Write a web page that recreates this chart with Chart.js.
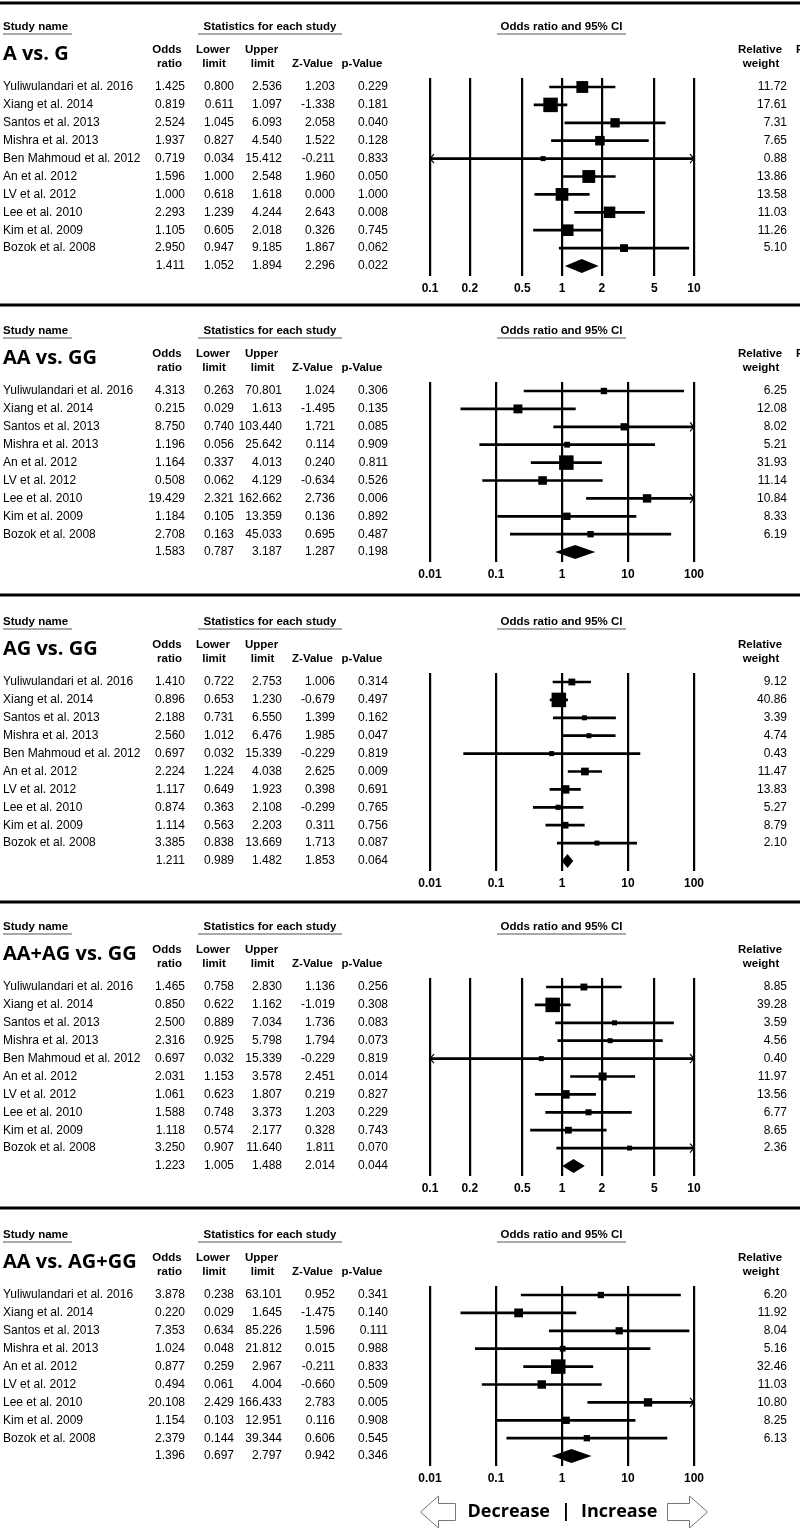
<!DOCTYPE html>
<html lang="en">
<head>
<meta charset="UTF-8">
<title>Forest plots</title>
<script src="https://cdn.jsdelivr.net/npm/chart.js@4.4.0/dist/chart.umd.min.js"></script>
<style>
  body { margin: 0; background: #fff; }
  #wrap { position: relative; width: 800px; height: 1528px; overflow: hidden; background: #fff; }
  canvas { position: absolute; left: 0; }
</style>
</head>
<body>
<div id="wrap"></div>
<script>
// ---- data ----
const studiesAll = ['Yuliwulandari et al. 2016', 'Xiang et al. 2014', 'Santos et al. 2013', 'Mishra et al. 2013',
  'Ben Mahmoud et al. 2012', 'An et al. 2012', 'LV et al. 2012', 'Lee et al. 2010', 'Kim et al. 2009', 'Bozok et al. 2008'];
const studiesNoBM = ['Yuliwulandari et al. 2016', 'Xiang et al. 2014', 'Santos et al. 2013', 'Mishra et al. 2013',
  'An et al. 2012', 'LV et al. 2012', 'Lee et al. 2010', 'Kim et al. 2009', 'Bozok et al. 2008'];

const ticksNarrow = [0.1, 0.2, 0.5, 1, 2, 5, 10];
const ticksWide = [0.01, 0.1, 1, 10, 100];

// A vs. G
const ag_or = [1.425, 0.819, 2.524, 1.937, 0.719, 1.596, 1.000, 2.293, 1.105, 2.950];
const ag_lo = [0.800, 0.611, 1.045, 0.827, 0.034, 1.000, 0.618, 1.239, 0.605, 0.947];
const ag_hi = [2.536, 1.097, 6.093, 4.540, 15.412, 2.548, 1.618, 4.244, 2.018, 9.185];
const ag_z = [1.203, -1.338, 2.058, 1.522, -0.211, 1.960, 0.000, 2.643, 0.326, 1.867];
const ag_p = [0.229, 0.181, 0.040, 0.128, 0.833, 0.050, 1.000, 0.008, 0.745, 0.062];
const ag_w = [11.72, 17.61, 7.31, 7.65, 0.88, 13.86, 13.58, 11.03, 11.26, 5.10];
const ag_sum = [1.411, 1.052, 1.894, 2.296, 0.022];

// AA vs. GG
const aagg_or = [4.313, 0.215, 8.750, 1.196, 1.164, 0.508, 19.429, 1.184, 2.708];
const aagg_lo = [0.263, 0.029, 0.740, 0.056, 0.337, 0.062, 2.321, 0.105, 0.163];
const aagg_hi = [70.801, 1.613, 103.440, 25.642, 4.013, 4.129, 162.662, 13.359, 45.033];
const aagg_z = [1.024, -1.495, 1.721, 0.114, 0.240, -0.634, 2.736, 0.136, 0.695];
const aagg_p = [0.306, 0.135, 0.085, 0.909, 0.811, 0.526, 0.006, 0.892, 0.487];
const aagg_w = [6.25, 12.08, 8.02, 5.21, 31.93, 11.14, 10.84, 8.33, 6.19];
const aagg_sum = [1.583, 0.787, 3.187, 1.287, 0.198];

// AG vs. GG
const aggg_or = [1.410, 0.896, 2.188, 2.560, 0.697, 2.224, 1.117, 0.874, 1.114, 3.385];
const aggg_lo = [0.722, 0.653, 0.731, 1.012, 0.032, 1.224, 0.649, 0.363, 0.563, 0.838];
const aggg_hi = [2.753, 1.230, 6.550, 6.476, 15.339, 4.038, 1.923, 2.108, 2.203, 13.669];
const aggg_z = [1.006, -0.679, 1.399, 1.985, -0.229, 2.625, 0.398, -0.299, 0.311, 1.713];
const aggg_p = [0.314, 0.497, 0.162, 0.047, 0.819, 0.009, 0.691, 0.765, 0.756, 0.087];
const aggg_w = [9.12, 40.86, 3.39, 4.74, 0.43, 11.47, 13.83, 5.27, 8.79, 2.10];
const aggg_sum = [1.211, 0.989, 1.482, 1.853, 0.064];

// AA+AG vs. GG
const dom_or = [1.465, 0.850, 2.500, 2.316, 0.697, 2.031, 1.061, 1.588, 1.118, 3.250];
const dom_lo = [0.758, 0.622, 0.889, 0.925, 0.032, 1.153, 0.623, 0.748, 0.574, 0.907];
const dom_hi = [2.830, 1.162, 7.034, 5.798, 15.339, 3.578, 1.807, 3.373, 2.177, 11.640];
const dom_z = [1.136, -1.019, 1.736, 1.794, -0.229, 2.451, 0.219, 1.203, 0.328, 1.811];
const dom_p = [0.256, 0.308, 0.083, 0.073, 0.819, 0.014, 0.827, 0.229, 0.743, 0.070];
const dom_w = [8.85, 39.28, 3.59, 4.56, 0.40, 11.97, 13.56, 6.77, 8.65, 2.36];
const dom_sum = [1.223, 1.005, 1.488, 2.014, 0.044];

// AA vs. AG+GG
const rec_or = [3.878, 0.220, 7.353, 1.024, 0.877, 0.494, 20.108, 1.154, 2.379];
const rec_lo = [0.238, 0.029, 0.634, 0.048, 0.259, 0.061, 2.429, 0.103, 0.144];
const rec_hi = [63.101, 1.645, 85.226, 21.812, 2.967, 4.004, 166.433, 12.951, 39.344];
const rec_z = [0.952, -1.475, 1.596, 0.015, -0.211, -0.660, 2.783, 0.116, 0.606];
const rec_p = [0.341, 0.140, 0.111, 0.988, 0.833, 0.509, 0.005, 0.908, 0.545];
const rec_w = [6.20, 11.92, 8.04, 5.16, 32.46, 11.03, 10.80, 8.25, 6.13];
const rec_sum = [1.396, 0.697, 2.797, 0.942, 0.346];

const panels = [
  { title: 'A vs. G', names: studiesAll, or: ag_or, lo: ag_lo, hi: ag_hi, z: ag_z, p: ag_p, w: ag_w, sum: ag_sum, ticks: ticksNarrow },
  { title: 'AA vs. GG', names: studiesNoBM, or: aagg_or, lo: aagg_lo, hi: aagg_hi, z: aagg_z, p: aagg_p, w: aagg_w, sum: aagg_sum, ticks: ticksWide },
  { title: 'AG vs. GG', names: studiesAll, or: aggg_or, lo: aggg_lo, hi: aggg_hi, z: aggg_z, p: aggg_p, w: aggg_w, sum: aggg_sum, ticks: ticksWide },
  { title: 'AA+AG vs. GG', names: studiesAll, or: dom_or, lo: dom_lo, hi: dom_hi, z: dom_z, p: dom_p, w: dom_w, sum: dom_sum, ticks: ticksNarrow },
  { title: 'AA vs. AG+GG', names: studiesNoBM, or: rec_or, lo: rec_lo, hi: rec_hi, z: rec_z, p: rec_p, w: rec_w, sum: rec_sum, ticks: ticksWide }
];

// ---- layout (page pixels) ----
const sepY = [3, 305, 595, 902, 1208];
const firstRowY = [87, 391, 682, 987, 1295];
const ROW = 17.9;
const PAGE_H = 1528;
const AXIS_H = 30;

const BODY = '12px "Liberation Sans", Arial, sans-serif';
const HEAD = 'bold 11.5px "Liberation Sans", Arial, sans-serif';
const TITLE = 'bold 20px "Open Sans", "Liberation Sans", sans-serif';

const wrap = document.getElementById('wrap');

panels.forEach((pn, k) => {
  const n = pn.names.length;
  const T = sepY[k] - 2;
  const H = (k < panels.length - 1 ? sepY[k + 1] - 2 : PAGE_H) - T;
  const r0 = firstRowY[k] - T;
  const areaTop = r0 - 9;
  const areaBot = r0 + n * ROW + 10;
  const xmin = pn.ticks[0], xmax = pn.ticks[pn.ticks.length - 1];
  const wmax = Math.max(...pn.w);

  const canvas = document.createElement('canvas');
  canvas.width = 800; canvas.height = H;
  canvas.style.top = T + 'px';
  canvas.style.width = '800px'; canvas.style.height = H + 'px';
  wrap.appendChild(canvas);

  // whisker segments, broken with NaN
  const ciData = [];
  pn.names.forEach((_, i) => {
    ciData.push({ x: pn.lo[i], y: i }, { x: pn.hi[i], y: i }, { x: NaN, y: NaN });
  });
  const ptData = pn.names.map((_, i) => ({ x: pn.or[i], y: i }));

  const tablePlugin = {
    id: 'forestTable',
    afterDatasetsDraw(chart) {
      const ctx = chart.ctx, xs = chart.scales.x, ys = chart.scales.y, a = chart.chartArea;
      ctx.save();
      // arrows where CI runs off the axis
      ctx.strokeStyle = '#000'; ctx.lineWidth = 1.2;
      pn.names.forEach((_, i) => {
        const yy = ys.getPixelForValue(i);
        if (pn.hi[i] > xmax) {
          ctx.beginPath(); ctx.moveTo(a.right - 4, yy - 4.5); ctx.lineTo(a.right, yy); ctx.lineTo(a.right - 4, yy + 4.5); ctx.stroke();
        }
        if (pn.lo[i] < xmin) {
          ctx.beginPath(); ctx.moveTo(a.left + 4, yy - 4.5); ctx.lineTo(a.left, yy); ctx.lineTo(a.left + 4, yy + 4.5); ctx.stroke();
        }
      });
      // summary diamond
      const yd = ys.getPixelForValue(n);
      ctx.fillStyle = '#000';
      ctx.beginPath();
      ctx.moveTo(xs.getPixelForValue(pn.sum[1]), yd);
      ctx.lineTo(xs.getPixelForValue(pn.sum[0]), yd - 7);
      ctx.lineTo(xs.getPixelForValue(pn.sum[2]), yd);
      ctx.lineTo(xs.getPixelForValue(pn.sum[0]), yd + 7);
      ctx.closePath(); ctx.fill();
      ctx.restore();
    },
    afterDraw(chart) {
      const ctx = chart.ctx, ys = chart.scales.y;
      const y0 = ys.getPixelForValue(0);
      ctx.save();
      ctx.fillStyle = '#000';
      ctx.fillRect(0, 0.5, 800, 3);
      ctx.textBaseline = 'middle';

      // group headings with underlines
      ctx.font = HEAD;
      const groups = [['Study name', 3, 'left', 3, 72], ['Statistics for each study', 270, 'center', 198, 342],
        ['Odds ratio and 95% CI', 561.5, 'center', 497, 626]];
      groups.forEach(g => {
        ctx.textAlign = g[2];
        ctx.fillText(g[0], g[1], y0 - 60);
        ctx.fillStyle = '#555';
        ctx.fillRect(g[3], y0 - 53.5, g[4] - g[3], 1);
        ctx.fillStyle = '#000';
      });
      if (k < 2) { ctx.textAlign = 'left'; ctx.fillText('R', 796, y0 - 37); }

      // column headers
      ctx.textAlign = 'center';
      [['Odds', 167], ['Lower', 213], ['Upper', 261.5], ['Relative', 760]].forEach(h => ctx.fillText(h[0], h[1], y0 - 37));
      [['ratio', 169.5], ['limit', 214], ['limit', 262.5], ['Z-Value', 312.5], ['p-Value', 362], ['weight', 761]]
        .forEach(h => ctx.fillText(h[0], h[1], y0 - 23));

      // panel title
      ctx.font = TITLE; ctx.textAlign = 'left';
      ctx.fillText(pn.title, 3, y0 - 33);

      // rows
      ctx.font = BODY;
      const cols = [185, 234, 282, 335, 388];
      const row = (yy, vals) => {
        ctx.textAlign = 'right';
        vals.forEach((v, j) => ctx.fillText(v.toFixed(3), cols[j], yy));
      };
      pn.names.forEach((name, i) => {
        const yy = ys.getPixelForValue(i);
        ctx.textAlign = 'left';
        ctx.fillText(name, 3, yy);
        row(yy, [pn.or[i], pn.lo[i], pn.hi[i], pn.z[i], pn.p[i]]);
        ctx.textAlign = 'right';
        ctx.fillText(pn.w[i].toFixed(2), 787, yy);
      });
      row(ys.getPixelForValue(n), pn.sum);

      // direction legend under the last panel
      if (k === panels.length - 1) {
        const yl = 1512 - T;
        ctx.font = 'bold 18px "Open Sans", "Liberation Sans", sans-serif';
        ctx.textAlign = 'right'; ctx.fillText('Decrease', 550, yl);
        ctx.textAlign = 'center'; ctx.fillText('|', 566, yl);
        ctx.textAlign = 'left'; ctx.fillText('Increase', 581, yl);
        ctx.strokeStyle = '#777'; ctx.lineWidth = 1;
        const arrow = (tip, base, tail) => {
          ctx.beginPath();
          ctx.moveTo(tip, yl);
          ctx.lineTo(base, yl - 16); ctx.lineTo(base, yl - 8.5);
          ctx.lineTo(tail, yl - 8.5); ctx.lineTo(tail, yl + 8.5);
          ctx.lineTo(base, yl + 8.5); ctx.lineTo(base, yl + 16);
          ctx.closePath(); ctx.stroke();
        };
        arrow(420.5, 438.5, 455.5);
        arrow(707.5, 689.5, 667.5);
      }
      ctx.restore();
    }
  };

  new Chart(canvas, {
    type: 'scatter',
    data: {
      datasets: [
        { data: ciData, showLine: true, spanGaps: false, borderColor: '#000', borderWidth: 2.7, pointRadius: 0 },
        {
          data: ptData, pointStyle: 'rect', backgroundColor: '#000', borderWidth: 0,
          pointRadius: c => Math.max(5, 14.5 * Math.sqrt(pn.w[c.dataIndex] / wmax)) / Math.SQRT2
        }
      ]
    },
    options: {
      responsive: false,
      animation: false,
      events: [],
      layout: { padding: { left: 430, right: 106, top: areaTop, bottom: H - areaBot - AXIS_H } },
      plugins: { legend: { display: false }, tooltip: { enabled: false } },
      scales: {
        x: {
          type: 'logarithmic', min: xmin, max: xmax,
          afterBuildTicks: s => { s.ticks = pn.ticks.map(v => ({ value: v })); },
          afterFit: s => { s.height = AXIS_H; },
          grid: { color: '#000', lineWidth: 2.2, drawTicks: false },
          border: { display: false },
          ticks: {
            autoSkip: false, maxRotation: 0, padding: 5, color: '#000',
            font: { family: '"Liberation Sans", Arial, sans-serif', size: 12, weight: 'bold' },
            callback: v => String(v)
          }
        },
        y: { type: 'linear', reverse: true, display: false, min: -9 / ROW, max: n + 10 / ROW }
      }
    },
    plugins: [tablePlugin]
  });
});
</script>
</body>
</html>
